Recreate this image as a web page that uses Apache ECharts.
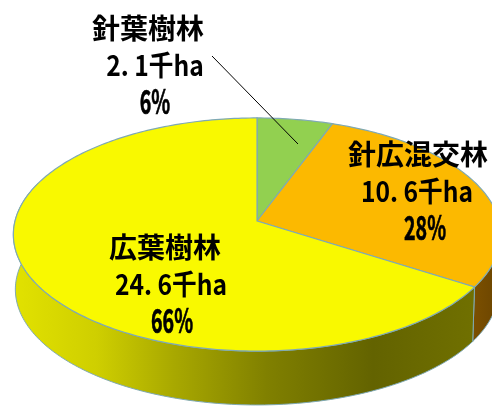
<!DOCTYPE html>
<html>
<head>
<meta charset="utf-8">
<style>
  html, body { margin: 0; padding: 0; background: #fff; }
  #chart { width: 492px; height: 407px; }
</style>
<script src="https://cdn.jsdelivr.net/npm/echarts@6/dist/echarts.min.js"></script>
</head>
<body>
<div id="chart"></div>
<script>
const categories = ['針葉樹林', '針広混交林', '広葉樹林'];
const areas = [2.1, 10.6, 24.6];
const shares = [6, 28, 66];
const unit = '千ha';

// slice colours, top face then side wall
const topColors = ['#92d050', '#fcb900', '#f9f900'];
const edgeColor = '#7fa9b4';
const wallColors = [
  [[0, '#92d050'], [1, '#4f7a20']],
  [[0, '#7c5000'], [1, '#6a4400']],
  [[0, '#e2e200'], [0.18, '#cfcf00'], [0.35, '#a8a800'], [0.55, '#808000'], [0.78, '#636300'], [1, '#707000']]
];

// perspective of the tilted disc
const topFace = { cx: 257, cy: 221, rx: 242, ry: 115, k: 0.116 };
const bottomFace = { cx: 257, cy: 276, rx: 240, ry: 114, k: 0.116 };

// x centre and middle of each of the three text rows, per slice
const labelRows = [
  [[148, 28], [155, 65], [155, 101]],
  [[418, 154], [417, 191], [425, 227]],
  [[165, 247], [171, 284], [172, 320]]
];
// the source font has half-width digits, so squeeze those rows
const rowSqueeze = [1, 0.88, 0.7];
const rowStretch = [1, 1, 1.18];
const rowStroke = [0, 0, 0.6];
const leaderLine = { x1: 212, y1: 56, x2: 298, y2: 144 };

function project(face, deg) {
  const a = deg * Math.PI / 180;
  const u = Math.sin(a), v = -Math.cos(a);
  const d = 1 - face.k * v;
  return [face.cx + face.rx * u / d, face.cy + face.ry * v / d];
}

function arc(face, from, to) {
  const pts = [];
  const n = Math.max(2, Math.ceil(Math.abs(to - from)));
  for (let i = 0; i <= n; i++) pts.push(project(face, from + (to - from) * i / n));
  return pts;
}

const total = areas.reduce((s, v) => s + v, 0);
let running = 0;
const sliceData = areas.map(v => {
  const start = running / total * 360;
  running += v;
  return [start, running / total * 360];
});

function renderWall(params, api) {
  // only the part of the rim facing the viewer has a side
  const from = Math.max(api.value(0), 83);
  const to = Math.min(api.value(1), 290);
  if (to <= from) return null;
  const pts = arc(topFace, from, to).concat(arc(bottomFace, to, from));
  return {
    type: 'polygon',
    shape: { points: pts },
    style: {
      fill: {
        type: 'linear', x: 1, y: 0, x2: 0, y2: 0,
        colorStops: wallColors[params.dataIndex].map(c => ({ offset: 1 - c[0], color: c[1] })).reverse()
      },
      stroke: edgeColor,
      lineWidth: 1
    }
  };
}

function renderTop(params, api) {
  const pts = [[topFace.cx, topFace.cy]].concat(arc(topFace, api.value(0), api.value(1)));
  return {
    type: 'polygon',
    shape: { points: pts },
    style: { fill: topColors[params.dataIndex], stroke: edgeColor, lineWidth: 1.2 }
  };
}

function renderLabel(params) {
  const i = params.dataIndex;
  const rows = [categories[i], areas[i].toFixed(1).replace('.', '. ') + unit, shares[i] + '%'];
  return {
    type: 'group',
    children: rows.map((t, r) => ({
      type: 'text',
      x: labelRows[i][r][0],
      y: labelRows[i][r][1],
      scaleX: rowSqueeze[r],
      scaleY: rowStretch[r],
      style: {
        text: t,
        fill: '#000',
        stroke: '#000',
        lineWidth: rowStroke[r],
        font: 'bold 28px "Noto Sans CJK JP"',
        align: 'center',
        verticalAlign: 'middle'
      }
    }))
  };
}

const chart = echarts.init(document.getElementById('chart'), null, { renderer: 'canvas' });

chart.setOption({
  backgroundColor: '#fff',
  animation: false,
  series: [
    { type: 'custom', coordinateSystem: 'none', data: sliceData, renderItem: renderWall, silent: true, z: 1 },
    { type: 'custom', coordinateSystem: 'none', data: sliceData, renderItem: renderTop, silent: true, z: 2 },
    { type: 'custom', coordinateSystem: 'none', data: sliceData, renderItem: renderLabel, silent: true, z: 4 }
  ],
  graphic: [{
    type: 'line',
    z: 3,
    silent: true,
    shape: leaderLine,
    style: { stroke: '#000', lineWidth: 1 }
  }]
});
</script>
</body>
</html>
